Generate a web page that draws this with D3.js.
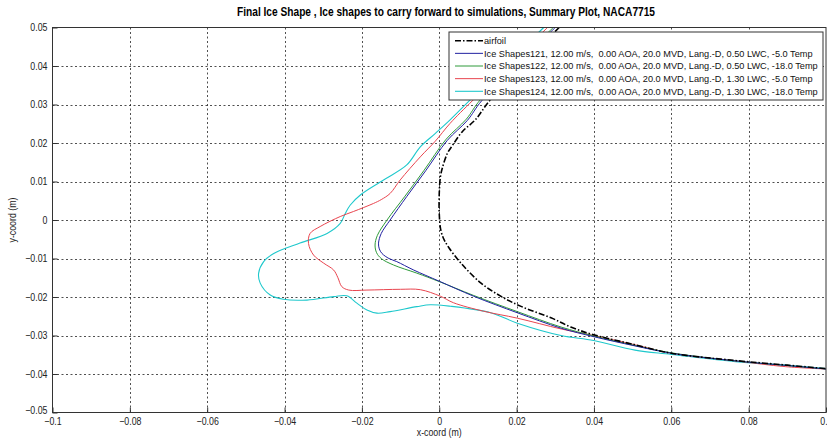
<!DOCTYPE html>
<html>
<head>
<meta charset="utf-8">
<script src="https://cdn.jsdelivr.net/npm/d3@7"></script>
<style>
  body { margin: 0; background: #fff; }
  #chart { width: 827px; height: 439px; }
  text { white-space: pre; }
</style>
</head>
<body>
<div id="chart"></div>
<script>
// values (x-coord, y-coord in metres)
const airfoilX = [0.031, 0.0132, 0.0093, 0.0060, 0.0035, 0.0021, 0.0008, 0.0003, 0.0000, 0.0000, 0.0004, 0.0012, 0.0025, 0.0056, 0.0108, 0.0161, 0.0213, 0.0289, 0.0340, 0.0399, 0.0506, 0.0600, 0.0766, 0.0900, 0.1000];
const airfoilY = [0.050, 0.0312, 0.0260, 0.0230, 0.0195, 0.0173, 0.0135, 0.0112, 0.0069, 0.0017, -0.0026, -0.0050, -0.0072, -0.0112, -0.0164, -0.0199, -0.0225, -0.0254, -0.0278, -0.0298, -0.0324, -0.0346, -0.0365, -0.0377, -0.0386];

const ice121X = [0.030, 0.011, 0.0073, 0.0021, -0.0035, -0.0084, -0.0127, -0.0150, -0.0157, -0.0155, -0.0148, -0.0130, -0.0110, -0.0066, 0.0000, 0.0089, 0.0202, 0.0315, 0.0399, 0.0506, 0.0600, 0.0766, 0.0900, 0.1000];
const ice121Y = [0.050, 0.031, 0.0259, 0.0207, 0.0128, 0.0061, 0.0000, -0.0035, -0.0060, -0.0075, -0.0087, -0.0100, -0.0108, -0.0130, -0.0159, -0.0198, -0.0241, -0.0281, -0.0303, -0.0327, -0.0346, -0.0366, -0.0378, -0.0387];

const ice122X = [0.0295, 0.0106, 0.0070, 0.0018, -0.0040, -0.0090, -0.0135, -0.0160, -0.0166, -0.0162, -0.0150, -0.0118, -0.0058, 0.0000, 0.0089, 0.0202, 0.0315, 0.0399, 0.0506, 0.0600, 0.0766, 0.0900, 0.1000];
const ice122Y = [0.050, 0.0312, 0.0262, 0.0210, 0.0128, 0.0060, 0.0000, -0.0040, -0.0065, -0.0085, -0.0100, -0.0117, -0.0138, -0.0160, -0.0196, -0.0238, -0.0278, -0.0301, -0.0326, -0.0345, -0.0366, -0.0378, -0.0387];

const ice123X = [0.028, 0.0088, 0.0028, -0.0010, -0.0049, -0.0101, -0.0127, -0.0150, -0.0170, -0.0222, -0.0256, -0.0308, -0.0334, -0.0338, -0.0325, -0.0299, -0.0273, -0.0262, -0.0252, -0.0234, -0.0187, -0.0100, -0.0049, 0.0003, 0.0037, 0.0115, 0.0202, 0.0315, 0.0399, 0.0506, 0.0600, 0.0766, 0.0896, 0.1000];
const ice123Y = [0.050, 0.0312, 0.0251, 0.0205, 0.0164, 0.0104, 0.0069, 0.0053, 0.0043, 0.0022, 0.0009, -0.0017, -0.0035, -0.0061, -0.0091, -0.0112, -0.0130, -0.0150, -0.0173, -0.0182, -0.0182, -0.0180, -0.0181, -0.0198, -0.0215, -0.0237, -0.0255, -0.0283, -0.0300, -0.0324, -0.0346, -0.0366, -0.0381, -0.0387];

const ice124X = [0.027, 0.0080, 0.0028, -0.0010, -0.0049, -0.0084, -0.0144, -0.0204, -0.0230, -0.0243, -0.0256, -0.0290, -0.0360, -0.0428, -0.0454, -0.0467, -0.0463, -0.0437, -0.0403, -0.0342, -0.0273, -0.0239, -0.0213, -0.0187, -0.0161, -0.0127, -0.0058, -0.0023, 0.0029, 0.0133, 0.0202, 0.0315, 0.0399, 0.0506, 0.0600, 0.0766, 0.0896, 0.1000];
const ice124Y = [0.050, 0.0312, 0.0260, 0.0225, 0.0190, 0.0143, 0.0104, 0.0065, 0.0039, 0.0017, -0.0009, -0.0035, -0.0060, -0.0087, -0.0108, -0.0138, -0.0164, -0.0195, -0.0206, -0.0208, -0.0199, -0.0197, -0.0216, -0.0234, -0.0242, -0.0238, -0.0225, -0.0220, -0.0224, -0.0241, -0.0268, -0.0300, -0.0313, -0.0338, -0.0349, -0.0368, -0.0377, -0.0386];

const seriesNames = [
  "airfoil",
  "Ice Shapes121, 12.00 m/s,  0.00 AOA, 20.0 MVD, Lang.-D, 0.50 LWC, -5.0 Temp",
  "Ice Shapes122, 12.00 m/s,  0.00 AOA, 20.0 MVD, Lang.-D, 0.50 LWC, -18.0 Temp",
  "Ice Shapes123, 12.00 m/s,  0.00 AOA, 20.0 MVD, Lang.-D, 1.30 LWC, -5.0 Temp",
  "Ice Shapes124, 12.00 m/s,  0.00 AOA, 20.0 MVD, Lang.-D, 1.30 LWC, -18.0 Temp"
];
const xTicks = [-0.1, -0.08, -0.06, -0.04, -0.02, 0, 0.02, 0.04, 0.06, 0.08, 0.1];
const yTicks = [-0.05, -0.04, -0.03, -0.02, -0.01, 0, 0.01, 0.02, 0.03, 0.04, 0.05];

(function () {
  const width = 827, height = 439;
  const left = 52.5, right = 826, top = 27.5, bottom = 412.5;
  const font = "'Liberation Sans', Arial, sans-serif";
  const squeeze = 0.84; // the original uses a condensed face

  const series = [
    { name: seriesNames[0], xs: airfoilX, ys: airfoilY, color: "#000", w: 1.6, dash: "6,2,1.5,2" },
    { name: seriesNames[1], xs: ice121X, ys: ice121Y, color: "#2020a0", w: 1, dash: null },
    { name: seriesNames[2], xs: ice122X, ys: ice122Y, color: "#2e9a3a", w: 1, dash: null },
    { name: seriesNames[3], xs: ice123X, ys: ice123Y, color: "#e8454f", w: 1, dash: null },
    { name: seriesNames[4], xs: ice124X, ys: ice124Y, color: "#1ec8cc", w: 1.1, dash: null }
  ];

  const svg = d3.select("#chart").append("svg")
    .attr("width", width).attr("height", height);

  const x = d3.scaleLinear().domain([-0.1, 0.1]).range([left, right]);
  const y = d3.scaleLinear().domain([-0.05, 0.05]).range([bottom, top]);

  // grid
  const grid = svg.append("g").attr("stroke", "#222").attr("stroke-width", 0.8)
    .attr("stroke-dasharray", "2,2.5");
  grid.selectAll(".gx").data(xTicks.slice(1, -1)).enter().append("line")
    .attr("x1", d => Math.round(x(d)) + 0.5).attr("x2", d => Math.round(x(d)) + 0.5)
    .attr("y1", top).attr("y2", bottom);
  grid.selectAll(".gy").data(yTicks.slice(1, -1)).enter().append("line")
    .attr("y1", d => Math.round(y(d)) + 0.5).attr("y2", d => Math.round(y(d)) + 0.5)
    .attr("x1", left).attr("x2", right);

  // curves
  svg.append("clipPath").attr("id", "clip").append("rect")
    .attr("x", left).attr("y", top).attr("width", right - left).attr("height", bottom - top);

  const line = d3.line().x(d => x(d[0])).y(d => y(d[1]))
    .curve(d3.curveCatmullRom.alpha(0.5));

  const plot = svg.append("g").attr("clip-path", "url(#clip)");
  series.slice().reverse().forEach(s => {
    plot.append("path")
      .attr("d", line(s.xs.map((v, i) => [v, s.ys[i]])))
      .attr("fill", "none")
      .attr("stroke", s.color)
      .attr("stroke-width", s.w)
      .attr("stroke-dasharray", s.dash);
  });

  // axes box
  svg.append("rect").attr("x", left).attr("y", top)
    .attr("width", right - left).attr("height", bottom - top)
    .attr("fill", "none").attr("stroke", "#333").attr("stroke-width", 1);

  const fmt = d => (d === 0 ? "0" : String(+d.toFixed(2)).replace("-", "\u2212"));

  const xAxis = d3.axisBottom(x).tickValues(xTicks).tickSizeInner(-5).tickSizeOuter(0)
    .tickPadding(5).tickFormat(fmt);
  const gx = svg.append("g").attr("transform", `translate(0,${bottom})`).call(xAxis);
  gx.select(".domain").remove();
  gx.selectAll("line").attr("stroke", "#333");
  gx.selectAll("text").attr("font-family", font).attr("font-size", 10.5).attr("fill", "#222")
    .attr("transform", `scale(${squeeze},1)`);

  const yAxis = d3.axisLeft(y).tickValues(yTicks).tickSizeInner(-5).tickSizeOuter(0)
    .tickPadding(5).tickFormat(fmt);
  const gy = svg.append("g").attr("transform", `translate(${left},0)`).call(yAxis);
  gy.select(".domain").remove();
  gy.selectAll("line").attr("stroke", "#333");
  gy.selectAll("text").attr("font-family", font).attr("font-size", 10.5).attr("fill", "#222")
    .attr("x", -5 / squeeze).attr("transform", `scale(${squeeze},1)`);
  // the bottom y label sits a little higher
  gy.selectAll(".tick text").filter(d => d === -0.05).attr("dy", "0.1em");

  // titles
  svg.append("text").attr("x", 446).attr("y", 16).attr("text-anchor", "middle")
    .attr("font-family", font).attr("font-weight", "bold").attr("font-size", 12.5)
    .attr("textLength", 418).attr("lengthAdjust", "spacingAndGlyphs")
    .text("Final Ice Shape , Ice shapes to carry forward to simulations, Summary Plot, NACA7715");
  svg.append("text").attr("transform", `translate(${(left + right) / 2},436) scale(${squeeze},1)`)
    .attr("text-anchor", "middle")
    .attr("font-family", font).attr("font-size", 10.5).attr("fill", "#222").text("x-coord (m)");
  svg.append("text").attr("transform", `translate(16,${(top + bottom) / 2}) rotate(-90) scale(${squeeze},1)`)
    .attr("text-anchor", "middle")
    .attr("font-family", font).attr("font-size", 10.5).attr("fill", "#222").text("y-coord (m)");

  // legend
  const lg = svg.append("g").attr("transform", "translate(449,32)");
  lg.append("rect").attr("width", 374).attr("height", 68)
    .attr("fill", "#fff").attr("stroke", "#333").attr("stroke-width", 1);
  series.forEach((s, i) => {
    const yy = 8.7 + i * 12.65;
    lg.append("line").attr("x1", 6).attr("x2", 34).attr("y1", yy).attr("y2", yy)
      .attr("stroke", s.color).attr("stroke-width", s.w).attr("stroke-dasharray", s.dash);
    lg.append("text").attr("x", 35).attr("y", yy).attr("dy", "0.35em")
      .attr("font-family", font).attr("font-size", 9.2)
      .attr("fill", "#111").text(s.name);
  });
})();
</script>
</body>
</html>
